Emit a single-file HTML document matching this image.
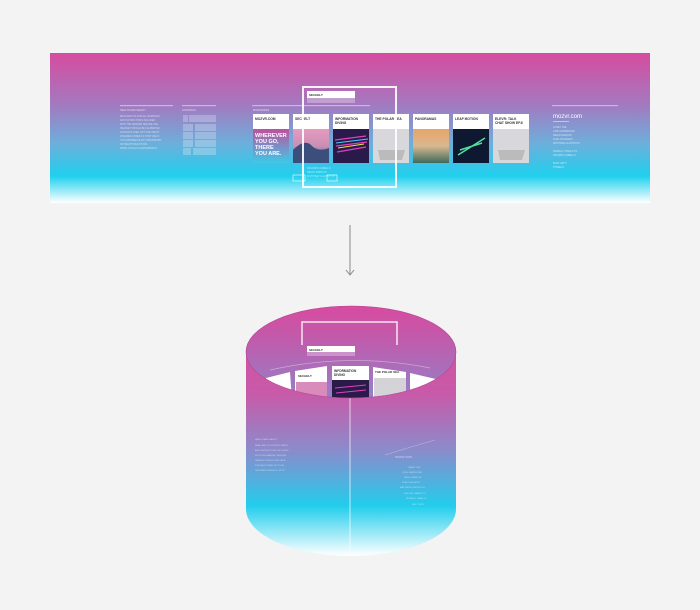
<!DOCTYPE html>
<html><head><meta charset="utf-8"><style>
html,body{margin:0;padding:0;background:#f3f3f3;}
svg{display:block}
text{font-family:"Liberation Sans",sans-serif;}
</style></head><body>
<svg width="700" height="610" viewBox="0 0 700 610" xmlns="http://www.w3.org/2000/svg">
<defs>
<linearGradient id="bg" x1="0" y1="0" x2="0" y2="1">
<stop offset="0" stop-color="#d74c9f"/>
<stop offset="0.35" stop-color="#a27ac0"/>
<stop offset="0.6" stop-color="#6eaedb"/>
<stop offset="0.82" stop-color="#1fd0ee"/>
<stop offset="1" stop-color="#ffffff"/>
</linearGradient>
<linearGradient id="front" x1="0" y1="306" x2="0" y2="556" gradientUnits="userSpaceOnUse">
<stop offset="0" stop-color="#d64da0"/>
<stop offset="0.35" stop-color="#c85aa8"/>
<stop offset="0.58" stop-color="#8a8ccc"/>
<stop offset="0.8" stop-color="#22cdec"/>
<stop offset="1" stop-color="#ffffff"/>
</linearGradient>
<linearGradient id="inner" x1="0" y1="306" x2="0" y2="400" gradientUnits="userSpaceOnUse">
<stop offset="0" stop-color="#d84ba0"/>
<stop offset="0.3" stop-color="#c458a9"/>
<stop offset="1" stop-color="#9282c8"/>
</linearGradient>
<linearGradient id="img1" x1="0" y1="0" x2="0" y2="1"><stop offset="0" stop-color="#c0509e"/><stop offset="1" stop-color="#3ec9e8"/></linearGradient>
<linearGradient id="img2" x1="0" y1="0" x2="0" y2="1"><stop offset="0" stop-color="#e79abf"/><stop offset="0.5" stop-color="#c98fb5"/><stop offset="1" stop-color="#4d5a8a"/></linearGradient>
<linearGradient id="img5" x1="0" y1="0" x2="0" y2="1"><stop offset="0" stop-color="#e7a56a"/><stop offset="0.5" stop-color="#d9b88f"/><stop offset="1" stop-color="#3d6a5a"/></linearGradient>
<clipPath id="topc"><ellipse cx="351" cy="352" rx="105" ry="46"/></clipPath>
</defs>

<rect x="50" y="53" width="600" height="150" fill="url(#bg)"/>
<rect x="120" y="105" width="53" height="1.2" fill="#ffffff" opacity="0.45"/>
<text x="120" y="111" font-size="2.5" fill="#fff" opacity="0.7">HEALTH AND SAFETY</text>
<g fill="#fff" opacity="0.6" font-size="2.3">
<text x="120" y="117">READ AND FOLLOW ALL WARNINGS</text>
<text x="120" y="121">AND INSTRUCTIONS INCLUDED</text>
<text x="120" y="125">WITH THE HEADSET BEFORE USE.</text>
<text x="120" y="129">HEADSET SHOULD BE CALIBRATED</text>
<text x="120" y="133">FOR EACH USER. NOT FOR USE BY</text>
<text x="120" y="137">CHILDREN UNDER 13. STOP USE IF</text>
<text x="120" y="141">YOU EXPERIENCE ANY DISCOMFORT</text>
<text x="120" y="145">OR HEALTH REACTIONS.</text>
<text x="120" y="149">MORE: OCULUS.COM/WARNINGS</text>
</g>
<rect x="182" y="105" width="34" height="1.2" fill="#fff" opacity="0.45"/>
<text x="182" y="111" font-size="2.5" fill="#fff" opacity="0.7">CONTROLS</text>
<g fill="#fff" opacity="0.25">
<rect x="183" y="115" width="5" height="7"/><rect x="189" y="115" width="27" height="7"/>
<rect x="183" y="124" width="10" height="7"/><rect x="195" y="124" width="21" height="7"/>
<rect x="183" y="132" width="10" height="7"/><rect x="195" y="132" width="21" height="7"/>
<rect x="183" y="140" width="10" height="7"/><rect x="195" y="140" width="21" height="7"/>
<rect x="183" y="148" width="8" height="7"/><rect x="193" y="148" width="23" height="7"/>
</g>
<rect x="252" y="105" width="118" height="1.2" fill="#fff" opacity="0.45"/>
<text x="253" y="111" font-size="2.5" fill="#fff" opacity="0.7">BOOKMARKS</text>
<g font-size="3.3" font-weight="bold" fill="#333">
<rect x="253" y="114" width="36" height="49" fill="#fff"/><rect x="253" y="129" width="36" height="34" fill="url(#img1)"/>
<text x="255" y="120">MOZVR.COM</text>
<text x="255" y="137" fill="#fff" font-size="5.5">WHEREVER</text><text x="255" y="143" fill="#fff" font-size="5.5">YOU GO,</text><text x="255" y="149" fill="#fff" font-size="5.5">THERE</text><text x="255" y="155" fill="#fff" font-size="5.5">YOU ARE.</text>
<rect x="293" y="114" width="36" height="49" fill="#fff"/><rect x="293" y="129" width="36" height="34" fill="url(#img2)"/>
<path d="M293 150 Q305 138 312 146 Q318 152 329 148 L329 163 L293 163Z" fill="#3c4f7c"/>
<text x="295" y="120">SECHELT</text>
<rect x="333" y="114" width="36" height="49" fill="#fff"/><rect x="333" y="129" width="36" height="34" fill="#2a1a4a"/>
<path d="M335 140 L366 136 M336 146 L367 142 M337 152 L366 147" stroke="#e040c0" stroke-width="1.2"/>
<path d="M338 148 L364 144" stroke="#f0e040" stroke-width="1"/>
<path d="M336 143 L368 139" stroke="#40d0ff" stroke-width="1"/>
<text x="335" y="120">INFORMATION</text><text x="335" y="124">DIVING</text>
<rect x="373" y="114" width="36" height="49" fill="#fff"/><rect x="373" y="129" width="36" height="34" fill="#d8d8dc"/>
<path d="M378 150 L405 150 L402 160 L380 160Z" fill="#bbb"/>
<text x="375" y="120">THE POLAR SEA</text>
<rect x="413" y="114" width="36" height="49" fill="#fff"/><rect x="413" y="129" width="36" height="34" fill="url(#img5)"/>
<text x="415" y="120">PANORAMAS</text>
<rect x="453" y="114" width="36" height="49" fill="#fff"/><rect x="453" y="129" width="36" height="34" fill="#0e1830"/>
<path d="M458 155 L485 138 M460 150 L482 143" stroke="#50e0a0" stroke-width="1.5"/>
<text x="455" y="120">LEAP MOTION</text>
<rect x="493" y="114" width="36" height="49" fill="#fff"/><rect x="493" y="129" width="36" height="34" fill="#d8d8dc"/>
<path d="M498 150 L525 150 L522 160 L500 160Z" fill="#bbb"/>
<text x="495" y="120">ELEVR: TALK</text><text x="495" y="124">CHAT SHOW EP.6</text>
</g>
<rect x="303" y="87" width="93" height="100" fill="none" stroke="#fff" stroke-width="2" opacity="0.9"/>
<rect x="307" y="91" width="48" height="7" fill="#fff"/>
<text x="309" y="96" font-size="3" font-weight="bold" fill="#333">SECHELT</text>
<rect x="307" y="98" width="48" height="5" fill="#fff" opacity="0.3"/>
<g fill="#fff" opacity="0.6" font-size="2.5">
<text x="307" y="169">RICARDO CABELLO</text><text x="307" y="173">DIEGO MARCOS</text><text x="307" y="177">MATTHEW CLAYPOTCH</text>
</g>
<rect x="293" y="175" width="12" height="6" fill="none" stroke="#fff" stroke-width="0.6"/>
<rect x="327" y="175" width="10" height="6" fill="none" stroke="#fff" stroke-width="0.6"/>
<rect x="552" y="105" width="66" height="1.2" fill="#fff" opacity="0.45"/>
<text x="553" y="118" font-size="6" fill="#fff">mozvr.com</text>
<rect x="553" y="121" width="16" height="0.8" fill="#fff" opacity="0.6"/>
<g fill="#fff" opacity="0.65" font-size="2.4">
<text x="553" y="128">CASEY YEE</text><text x="553" y="132">JOSH CARPENTER</text><text x="553" y="136">DIEGO MARCOS</text><text x="553" y="140">VLAD VUKICEVIC</text><text x="553" y="144">MATTHEW CLAYPOTCH</text>
<text x="553" y="152">SPECIAL THANKS TO</text><text x="553" y="156">RICARDO CABELLO</text>
<text x="553" y="164">BUILT WITH</text><text x="553" y="168">THREEJS</text>
</g>

<line x1="350" y1="225" x2="350" y2="274" stroke="#888" stroke-width="1"/>
<path d="M346 270 L350 275 L354 270" fill="none" stroke="#888" stroke-width="1"/>

<path d="M246 352 L246 509 A105 47 0 0 0 456 509 L456 352 A105 46 0 0 0 246 352Z" fill="url(#front)"/>
<g clip-path="url(#topc)">
<rect x="246" y="306" width="210" height="92" fill="url(#inner)"/>
<path d="M302 345 L302 322 L397 322 L397 345" fill="none" stroke="#fff" stroke-width="1.5" opacity="0.85"/>
<rect x="307" y="346" width="48" height="6" fill="#fff"/>
<text x="309" y="351" font-size="3" font-weight="bold" fill="#333">SECHELT</text>
<rect x="307" y="352" width="48" height="4" fill="#fff" opacity="0.3"/>
<path d="M270 370 Q350 352 430 368" fill="none" stroke="#fff" stroke-width="0.8" opacity="0.4"/>
<path d="M266 378 L290 372 L292 400 L266 400Z" fill="#fff"/>
<path d="M295 371 L327 366 L327 400 L295 400Z" fill="#fff"/>
<rect x="296" y="382" width="31" height="18" fill="#d98cbb"/>
<text x="298" y="377" font-size="3" font-weight="bold" fill="#333">SECHELT</text>
<rect x="332" y="366" width="37" height="34" fill="#fff"/>
<rect x="332" y="380" width="37" height="20" fill="#2a1a4a"/>
<path d="M335 388 L366 385 M336 393 L366 390" stroke="#e040c0" stroke-width="1"/>
<text x="334" y="372" font-size="3.2" font-weight="bold" fill="#333">INFORMATION</text>
<text x="334" y="376" font-size="3.2" font-weight="bold" fill="#333">DIVING</text>
<path d="M373 367 L406 372 L406 400 L373 400Z" fill="#fff"/>
<rect x="374" y="378" width="32" height="22" fill="#d4d4d8"/>
<text x="375" y="373" font-size="3" font-weight="bold" fill="#333">THE POLAR SEA</text>
<path d="M410 373 L440 380 L440 400 L410 400Z" fill="#fff"/>
</g>
<ellipse cx="351" cy="352" rx="105" ry="46" fill="none" stroke="#b84692" stroke-width="0.6"/>
<line x1="350" y1="398" x2="350" y2="556" stroke="#fff" stroke-width="1" opacity="0.7"/>
<g fill="#fff" opacity="0.55" font-size="2.2">
<text x="255" y="440">HEALTH AND SAFETY</text>
<text x="255" y="446">READ AND FOLLOW ALL WARN</text>
<text x="255" y="451">AND INSTRUCTIONS INCLUDED</text>
<text x="255" y="456">WITH THE HEADSET BEFORE</text>
<text x="255" y="461">HEADSET SHOULD BE CALIB</text>
<text x="255" y="466">FOR EACH USER. NOT FOR</text>
<text x="255" y="471">CHILDREN UNDER 13. STOP</text>
<text x="395" y="458" font-size="3.5">mozvr.com</text>
<text x="408" y="468">CASEY YEE</text><text x="402" y="473">JOSH CARPENTER</text>
<text x="404" y="478">DIEGO MARCOS</text><text x="402" y="483">VLAD VUKICEVIC</text>
<text x="400" y="488">MATTHEW CLAYPOTCH</text><text x="404" y="494">SPECIAL THANKS TO</text>
<text x="406" y="499">RICARDO CABELLO</text><text x="412" y="505">BUILT WITH</text>
</g>
<path d="M385 455 Q410 447 435 440" fill="none" stroke="#fff" stroke-width="0.6" opacity="0.4"/>
</svg>
</body></html>
